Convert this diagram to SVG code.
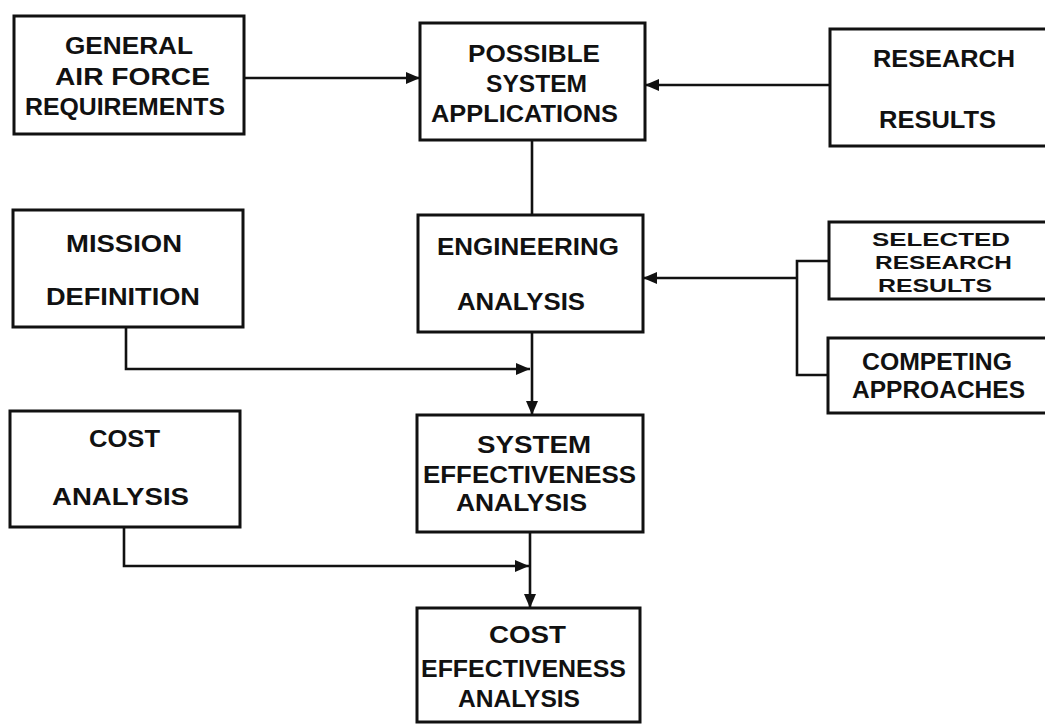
<svg xmlns="http://www.w3.org/2000/svg" width="1045" height="725" viewBox="0 0 1045 725">
  <defs>
    <marker id="arrow" markerUnits="userSpaceOnUse" markerWidth="16" markerHeight="14" refX="14" refY="7" orient="auto">
      <path d="M0,1 L14,7 L0,13 Z" fill="#111"/>
    </marker>
    <style>
      .box { fill: #fff; stroke: #111; stroke-width: 3; }
      .lbl { font-family: "Liberation Sans", Arial, sans-serif; font-weight: bold; font-size: 23px; fill: #111; }
      .lbl-tight { font-size: 19px; }
      .wire { fill: none; stroke: #111; stroke-width: 2.6; }
    </style>
  </defs>
  <rect width="1045" height="725" fill="#fff"/>

  <!-- connectors -->
  <g id="connectors">
    <line class="wire" x1="244" y1="78" x2="420" y2="78" marker-end="url(#arrow)"/>
    <line class="wire" x1="830" y1="85" x2="645" y2="85" marker-end="url(#arrow)"/>
    <line class="wire" x1="532" y1="140" x2="532" y2="215"/>
    <path class="wire" d="M829,261 H797 V375 H828"/>
    <line class="wire" x1="797" y1="278" x2="643" y2="278" marker-end="url(#arrow)"/>
    <path class="wire" d="M126,327 V369 H530" marker-end="url(#arrow)"/>
    <line class="wire" x1="532" y1="332" x2="532" y2="415" marker-end="url(#arrow)"/>
    <path class="wire" d="M124,527 V566 H529" marker-end="url(#arrow)"/>
    <line class="wire" x1="530" y1="532" x2="530" y2="608" marker-end="url(#arrow)"/>
  </g>

  <g id="general-requirements">
    <rect class="box" x="14" y="16" width="230" height="118"/>
    <text class="lbl" x="65" y="54" textLength="128" lengthAdjust="spacingAndGlyphs">GENERAL</text>
    <text class="lbl" x="55" y="85" textLength="155" lengthAdjust="spacingAndGlyphs">AIR FORCE</text>
    <text class="lbl" x="25" y="115" textLength="200" lengthAdjust="spacingAndGlyphs">REQUIREMENTS</text>
  </g>

  <g id="possible-applications">
    <rect class="box" x="420" y="23" width="225" height="117"/>
    <text class="lbl" x="468" y="62" textLength="132" lengthAdjust="spacingAndGlyphs">POSSIBLE</text>
    <text class="lbl" x="486" y="92" textLength="101" lengthAdjust="spacingAndGlyphs">SYSTEM</text>
    <text class="lbl" x="431" y="122" textLength="187" lengthAdjust="spacingAndGlyphs">APPLICATIONS</text>
  </g>

  <g id="research-results">
    <rect class="box" x="830" y="29" width="225" height="117"/>
    <text class="lbl" x="873" y="67" textLength="142" lengthAdjust="spacingAndGlyphs">RESEARCH</text>
    <text class="lbl" x="879" y="128" textLength="117" lengthAdjust="spacingAndGlyphs">RESULTS</text>
  </g>

  <g id="mission-definition">
    <rect class="box" x="13" y="210" width="230" height="117"/>
    <text class="lbl" x="66" y="252" textLength="116" lengthAdjust="spacingAndGlyphs">MISSION</text>
    <text class="lbl" x="46" y="305" textLength="154" lengthAdjust="spacingAndGlyphs">DEFINITION</text>
  </g>

  <g id="engineering-analysis">
    <rect class="box" x="418" y="215" width="225" height="117"/>
    <text class="lbl" x="437" y="255" textLength="182" lengthAdjust="spacingAndGlyphs">ENGINEERING</text>
    <text class="lbl" x="457" y="310" textLength="128" lengthAdjust="spacingAndGlyphs">ANALYSIS</text>
  </g>

  <g id="selected-research-results">
    <rect class="box" x="829" y="222" width="225" height="77"/>
    <text class="lbl lbl-tight" x="872" y="246" textLength="138" lengthAdjust="spacingAndGlyphs">SELECTED</text>
    <text class="lbl lbl-tight" x="875" y="269" textLength="137" lengthAdjust="spacingAndGlyphs">RESEARCH</text>
    <text class="lbl lbl-tight" x="878" y="292" textLength="114" lengthAdjust="spacingAndGlyphs">RESULTS</text>
  </g>

  <g id="competing-approaches">
    <rect class="box" x="828" y="338" width="225" height="75"/>
    <text class="lbl" x="862" y="370" textLength="150" lengthAdjust="spacingAndGlyphs">COMPETING</text>
    <text class="lbl" x="852" y="398" textLength="173" lengthAdjust="spacingAndGlyphs">APPROACHES</text>
  </g>

  <g id="cost-analysis">
    <rect class="box" x="10" y="411" width="230" height="116"/>
    <text class="lbl" x="89" y="447" textLength="71" lengthAdjust="spacingAndGlyphs">COST</text>
    <text class="lbl" x="52" y="505" textLength="137" lengthAdjust="spacingAndGlyphs">ANALYSIS</text>
  </g>

  <g id="system-effectiveness-analysis">
    <rect class="box" x="417" y="415" width="226" height="117"/>
    <text class="lbl" x="477" y="453" textLength="114" lengthAdjust="spacingAndGlyphs">SYSTEM</text>
    <text class="lbl" x="423" y="483" textLength="213" lengthAdjust="spacingAndGlyphs">EFFECTIVENESS</text>
    <text class="lbl" x="456" y="511" textLength="131" lengthAdjust="spacingAndGlyphs">ANALYSIS</text>
  </g>

  <g id="cost-effectiveness-analysis">
    <rect class="box" x="417" y="608" width="223" height="114"/>
    <text class="lbl" x="489" y="643" textLength="77" lengthAdjust="spacingAndGlyphs">COST</text>
    <text class="lbl" x="421" y="677" textLength="205" lengthAdjust="spacingAndGlyphs">EFFECTIVENESS</text>
    <text class="lbl" x="458" y="707" textLength="122" lengthAdjust="spacingAndGlyphs">ANALYSIS</text>
  </g>
</svg>
